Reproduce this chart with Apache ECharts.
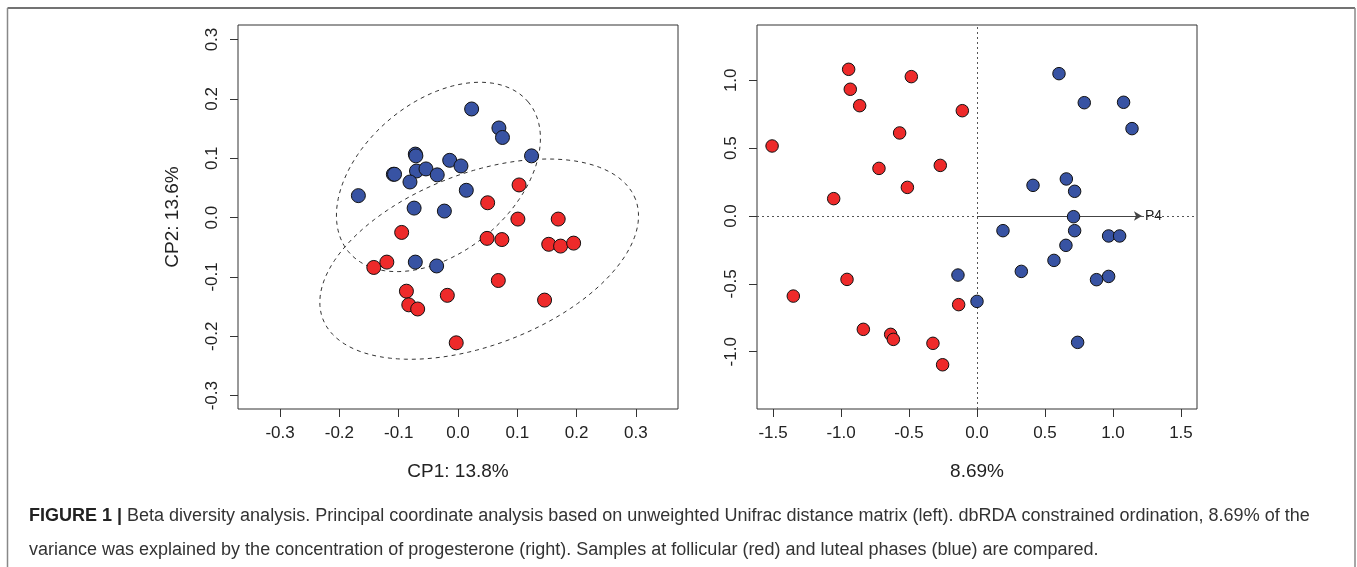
<!DOCTYPE html>
<html>
<head>
<meta charset="utf-8">
<script src="https://cdn.jsdelivr.net/npm/echarts@6/dist/echarts.min.js"></script>
<style>
  html, body { margin: 0; padding: 0; background: #fff; }
  #chart { width: 1357px; height: 567px; }
</style>
</head>
<body>
<div id="chart"></div>
<script>
// left panel: PCoA (unweighted Unifrac)
const pcoaLuteal = [
  [0.023, 0.183], [0.069, 0.151], [0.075, 0.135], [0.124, 0.104],
  [-0.072, 0.107], [-0.071, 0.104], [-0.014, 0.0965], [0.005, 0.087],
  [-0.109, 0.073], [-0.107, 0.073], [-0.070, 0.0785], [-0.054, 0.082],
  [-0.035, 0.072], [-0.081, 0.060], [-0.168, 0.037], [0.014, 0.046],
  [-0.074, 0.016], [-0.023, 0.011], [-0.072, -0.075], [-0.036, -0.0815]
]
const pcoaFollicular = [
  [0.103, 0.055], [0.050, 0.025], [0.101, -0.0025], [0.169, -0.0025],
  [-0.095, -0.025], [0.049, -0.035], [0.074, -0.037], [0.153, -0.045],
  [0.173, -0.048], [0.195, -0.043], [-0.142, -0.084], [-0.120, -0.075],
  [0.068, -0.106], [-0.087, -0.124], [-0.018, -0.131], [-0.083, -0.147],
  [-0.068, -0.154], [0.146, -0.139], [-0.003, -0.211]
]
// ellipses: centre x, centre y, semi-axis a, semi-axis b, angle (deg)
const lutealEllipse = [-0.033, 0.0685, 0.1972, 0.1271, 39.75]
const follicularEllipse = [0.0357, -0.070, 0.2823, 0.1449, 20.9]

// right panel: dbRDA
const rdaFollicular = [
  [-1.507, 0.516], [-0.944, 1.081], [-0.932, 0.934], [-0.863, 0.813],
  [-0.483, 1.027], [-0.108, 0.776], [-0.569, 0.612], [-0.721, 0.351],
  [-0.270, 0.373], [-0.512, 0.211], [-1.054, 0.128], [-0.956, -0.467],
  [-1.351, -0.590], [-0.135, -0.653], [-0.836, -0.835], [-0.635, -0.872],
  [-0.615, -0.909], [-0.324, -0.938], [-0.253, -1.096]
]
const rdaLuteal = [
  [0.603, 1.049], [0.789, 0.835], [1.078, 0.838], [1.140, 0.644],
  [0.412, 0.226], [0.657, 0.273], [0.718, 0.182], [0.710, -0.005],
  [0.191, -0.108], [0.718, -0.108], [0.968, -0.147], [1.049, -0.147],
  [0.654, -0.216], [0.566, -0.327], [0.326, -0.408], [-0.140, -0.435],
  [0.879, -0.469], [0.968, -0.445], [0.000, -0.629], [0.740, -0.931]
]
const p4Arrow = [[0, 0], [1.213, 0]]

const pcoaTicks = [-0.3, -0.2, -0.1, 0, 0.1, 0.2, 0.3]
const rdaXTicks = [-1.5, -1.0, -0.5, 0, 0.5, 1.0, 1.5]
const rdaYTicks = [-1.0, -0.5, 0, 0.5, 1.0]

const RED = '#ee2a2a'
const BLUE = '#3853a3'
const FONT = '"Liberation Sans", Arial, Helvetica, sans-serif'

function ellipsePoints (e) {
  const [cx, cy, a, b, deg] = e
  const th = deg * Math.PI / 180
  const pts = []
  for (let i = 0; i <= 120; i++) {
    const t = i / 120 * Math.PI * 2
    pts.push([
      cx + a * Math.cos(t) * Math.cos(th) - b * Math.sin(t) * Math.sin(th),
      cy + a * Math.cos(t) * Math.sin(th) + b * Math.sin(t) * Math.cos(th)
    ])
  }
  return pts
}

function valueAxis (opts) {
  const horizontal = opts.horizontal
  return {
    type: 'value',
    gridIndex: opts.grid,
    min: opts.min,
    max: opts.max,
    position: horizontal ? 'bottom' : 'left',
    name: opts.name || '',
    nameLocation: 'middle',
    nameGap: opts.nameGap,
    nameRotate: horizontal ? 0 : 90,
    nameTextStyle: { fontFamily: FONT, fontSize: 19, color: '#222' },
    axisLine: { show: false, onZero: false },
    splitLine: { show: false },
    axisTick: {
      show: true,
      inside: false,
      length: 8,
      customValues: opts.ticks,
      lineStyle: { color: '#333', width: 1 }
    },
    axisLabel: {
      show: true,
      customValues: opts.ticks,
      rotate: horizontal ? 0 : 90,
      margin: horizontal ? 16 : 17,
      fontFamily: FONT,
      fontSize: 17,
      color: '#222',
      formatter: v => v.toFixed(1)
    }
  }
}

function dots (data, color, size, x, y) {
  return {
    type: 'scatter',
    xAxisIndex: x,
    yAxisIndex: y,
    data,
    symbol: 'circle',
    symbolSize: size,
    itemStyle: { color, borderColor: '#111', borderWidth: 1, opacity: 1 },
    z: 5
  }
}

const chart = echarts.init(document.getElementById('chart'), null, { renderer: 'canvas' })

const option = {
  animation: false,
  backgroundColor: '#fff',
  grid: [
    { left: 238, top: 25, width: 440, height: 384, show: true, borderColor: '#333', borderWidth: 1, backgroundColor: 'transparent' },
    { left: 757, top: 25, width: 440, height: 384, show: true, borderColor: '#333', borderWidth: 1, backgroundColor: 'transparent' }
  ],
  xAxis: [
    valueAxis({ grid: 0, horizontal: true, min: -0.371, max: 0.371, ticks: pcoaTicks, name: 'CP1: 13.8%', nameGap: 53 }),
    valueAxis({ grid: 1, horizontal: true, min: -1.618, max: 1.618, ticks: rdaXTicks, name: '8.69%', nameGap: 53 })
  ],
  yAxis: [
    valueAxis({ grid: 0, min: -0.3225, max: 0.3245, ticks: pcoaTicks, name: 'CP2: 13.6%', nameGap: 56 }),
    valueAxis({ grid: 1, min: -1.422, max: 1.4075, ticks: rdaYTicks })
  ],
  series: [
    {
      type: 'line',
      xAxisIndex: 0,
      yAxisIndex: 0,
      data: ellipsePoints(lutealEllipse),
      showSymbol: false,
      symbol: 'none',
      lineStyle: { color: '#333', width: 1, type: [4, 4] },
      z: 2
    },
    {
      type: 'line',
      xAxisIndex: 0,
      yAxisIndex: 0,
      data: ellipsePoints(follicularEllipse),
      showSymbol: false,
      symbol: 'none',
      lineStyle: { color: '#333', width: 1, type: [4, 4] },
      z: 2
    },
    dots(pcoaLuteal, BLUE, 14, 0, 0),
    dots(pcoaFollicular, RED, 14, 0, 0),
    {
      // zero reference lines and the P4 vector label
      type: 'line',
      xAxisIndex: 1,
      yAxisIndex: 1,
      data: p4Arrow,
      showSymbol: false,
      symbol: 'none',
      lineStyle: { width: 0, opacity: 0 },
      z: 3,
      endLabel: {
        show: true,
        formatter: 'P4',
        distance: 3,
        fontFamily: FONT,
        fontSize: 14,
        color: '#222'
      },
      markLine: {
        silent: true,
        symbol: 'none',
        animation: false,
        lineStyle: { color: '#555', width: 1, type: [2, 3] },
        label: { show: false },
        data: [{ xAxis: 0 }, { yAxis: 0 }]
      }
    },
    {
      type: 'line',
      xAxisIndex: 1,
      yAxisIndex: 1,
      data: p4Arrow,
      showSymbol: false,
      symbol: 'none',
      lineStyle: { width: 0, opacity: 0 },
      z: 3,
      markLine: {
        silent: true,
        animation: false,
        symbol: ['none', 'arrow'],
        symbolSize: [7, 8],
        lineStyle: { color: '#444', width: 1, type: 'solid' },
        label: { show: false },
        data: [[{ coord: p4Arrow[0] }, { coord: p4Arrow[1] }]]
      }
    },
    dots(rdaFollicular, RED, 12.5, 1, 1),
    dots(rdaLuteal, BLUE, 12.5, 1, 1)
  ],
  graphic: [
    { type: 'line', shape: { x1: 7.5, y1: 8, x2: 1355, y2: 8 }, style: { stroke: '#444', lineWidth: 1.5 } },
    { type: 'line', shape: { x1: 7.5, y1: 8, x2: 7.5, y2: 567 }, style: { stroke: '#888', lineWidth: 1.5 } },
    { type: 'line', shape: { x1: 1355, y1: 8, x2: 1355, y2: 567 }, style: { stroke: '#888', lineWidth: 1.5 } },
    {
      type: 'text',
      left: 29,
      top: 507,
      style: {
        text: '{b|FIGURE 1 |} Beta diversity analysis. Principal coordinate analysis based on unweighted Unifrac distance matrix (left). dbRDA constrained ordination, 8.69% of the',
        fontFamily: FONT,
        fontSize: 18,
        fill: '#333',
        rich: { b: { fontWeight: 'bold', fontFamily: FONT, fontSize: 18, fill: '#222' } }
      }
    },
    {
      type: 'text',
      left: 29,
      top: 541,
      style: {
        text: 'variance was explained by the concentration of progesterone (right). Samples at follicular (red) and luteal phases (blue) are compared.',
        fontFamily: FONT,
        fontSize: 18,
        fill: '#333'
      }
    }
  ]
}

chart.setOption(option)
</script>
</body>
</html>
